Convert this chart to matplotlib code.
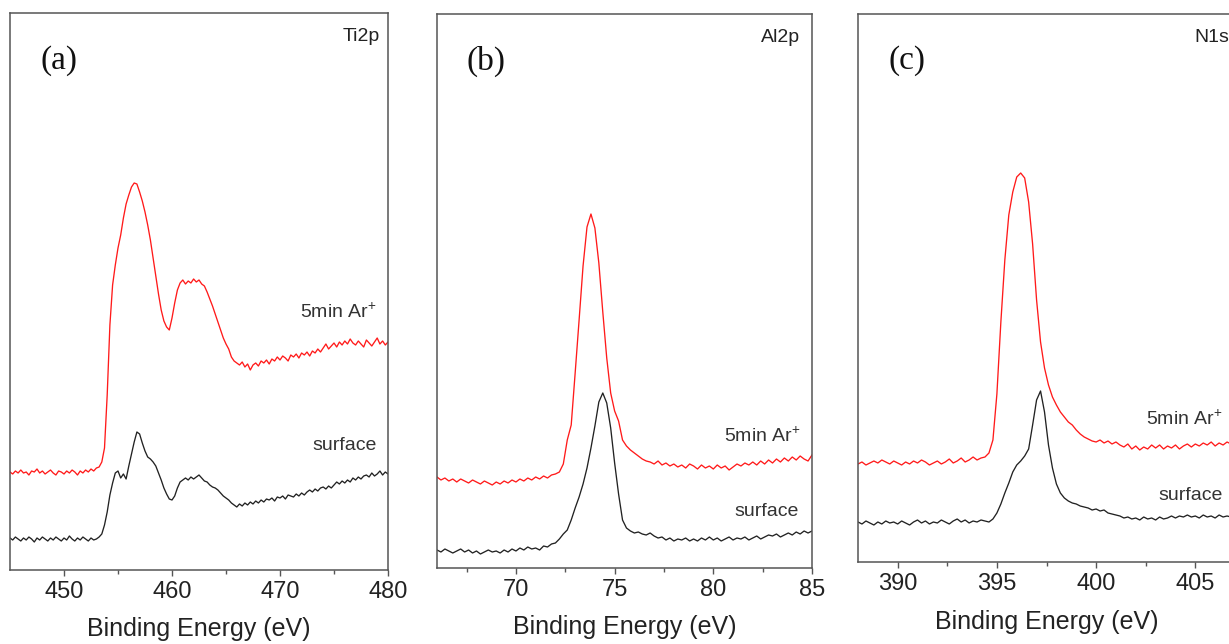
import numpy as np
import matplotlib
matplotlib.use('Agg')
import matplotlib.pyplot as plt

plt.rcParams['font.family'] = ['Liberation Sans', 'DejaVu Sans']
plt.rcParams['mathtext.fontset'] = 'custom'
plt.rcParams['mathtext.rm'] = 'Liberation Sans'
plt.rcParams['mathtext.default'] = 'regular'

# ---- (a) Ti2p, 0.25 eV steps, one row per eV ----
ti_ev = np.arange(445, 480.001, 0.25)
ti_sputter = [
    98, 96, 99, 97,   100, 97, 98, 95,   99, 98, 101, 97,   99, 96, 98, 100,
    97, 95, 99, 98,   96, 99, 97, 100,   98, 95, 99, 97,    100, 98, 101, 99,
    102, 103, 108, 122,  175, 245, 285, 305,  322, 335, 352, 366,  375, 383, 387, 386,
    378, 369, 358, 345,  330, 312, 294, 276,  260, 249, 243, 240,  252, 267, 280, 287,
    290, 286, 289, 287,  291, 288, 290, 286,  284, 278, 271, 264,  256, 248, 240, 232,
    226, 221, 213, 209,  207, 205, 208, 203,  206, 200, 205, 207,  204, 209, 207, 210,
    206, 211, 209, 213,  210, 214, 212, 209,  215, 213, 216, 212,  217, 215, 218, 214,
    219, 217, 221, 218,  222, 226, 221, 224,  227, 223, 228, 225,  229, 226, 231, 227,
    225, 229, 226, 223,  230, 227, 224, 228,  232, 226, 229, 225,
    228]
ti_surface = [
    32, 30, 33, 31,   29, 32, 30, 33,   31, 28, 32, 30,   33, 31, 29, 32,
    30, 33, 31, 29,   32, 30, 34, 31,   29, 32, 30, 33,   31, 29, 32, 30,
    31, 33, 36, 45,   58, 75, 87, 97,   99, 92, 96, 91,   104, 116, 128, 138,
    136, 127, 119, 113,  111, 108, 104, 97,  90, 82, 76, 71,  70, 74, 82, 88,
    90, 92, 90, 93,   91, 93, 95, 92,   89, 88, 85, 83,   82, 80, 77, 74,
    72, 70, 67, 65,   63, 66, 64, 67,   65, 68, 66, 69,   67, 70, 68, 71,
    70, 72, 69, 73,   72, 74, 71, 75,   74, 73, 76, 74,   77, 75, 78, 80,
    78, 81, 79, 82,   83, 81, 84, 82,   85, 88, 86, 89,   87, 90, 88, 92,
    90, 93, 91, 94,   95, 93, 97, 94,   96, 99, 95, 98,
    96]

# ---- (b) Al2p, 0.2 eV steps ----
al_ev = np.arange(66, 85.001, 0.2)
al_sputter = [
    91, 88, 90, 87, 89,  86, 89, 87, 85, 88,  86, 84, 87, 85, 83,  86, 84, 87, 85, 88,
    86, 89, 87, 90, 88,  91, 89, 92, 90, 93,  94, 96, 104, 128, 143,
    195, 248, 302, 341, 354,  340, 305, 256, 210, 175,  157, 147, 128, 122, 118,
    115, 112, 109, 107, 106,  104, 107, 103, 105, 102,  104, 101, 103, 100, 104,
    102, 99, 103, 100, 102,  99, 103, 100, 102, 98,  101, 104, 102, 105, 103,
    106, 103, 107, 104, 108,  105, 109, 106, 110, 107,  111, 108, 112, 109, 107,
    113]
al_surface = [
    18, 16, 19, 17, 15,  17, 19, 16, 18, 15,  17, 14, 16, 18, 16,  17, 15, 18, 16, 19,
    17, 20, 18, 21, 19,  20, 18, 22, 21, 24,  25, 29, 34, 38, 48,
    60, 71, 84, 100, 120,  142, 166, 175, 165, 140,  105, 74, 48, 40, 37,
    35, 36, 34, 33, 35,  32, 30, 31, 28, 30,  27, 29, 28, 30, 27,
    29, 27, 30, 28, 31,  28, 30, 27, 29, 31,  28, 30, 29, 31, 28,
    30, 32, 29, 31, 33,  32, 34, 31, 33, 35,  33, 36, 34, 37, 35,
    37]

# ---- (c) N1s, 0.2 eV steps ----
n_ev = np.arange(388, 407.001, 0.2)
n_sputter = [
    98, 100, 97, 99, 101,  99, 102, 100, 98, 101,  99, 97, 100, 98, 101,
    99, 102, 100, 97, 99,  101, 98, 100, 103, 99,  101, 104, 100, 102, 105,
    102, 104, 105, 109, 122,  168, 240, 302, 347, 370,  385, 389, 384, 360, 318,
    262, 220, 194, 177, 165,  157, 150, 145, 140, 137,  132, 128, 125, 123, 121,
    120, 122, 119, 121, 118,  120, 117, 115, 118, 113,  116, 112, 115, 113, 117,
    114, 117, 113, 116, 114,  117, 113, 116, 118, 115,  118, 116, 119, 117, 120,
    116, 119, 117, 120, 118,
    119]
n_surface = [
    40, 38, 41, 39, 37,  40, 38, 41, 39, 40,  38, 41, 39, 37, 40,
    42, 39, 41, 38, 40,  39, 42, 40, 38, 41,  43, 40, 42, 39, 41,
    40, 42, 41, 40, 43,  49, 58, 69, 79, 90,  97, 101, 106, 113, 137,
    162, 171, 150, 117, 94,  78, 69, 64, 61, 59,  58, 56, 55, 54, 52,
    53, 51, 52, 49, 48,  47, 46, 44, 45, 43,  44, 42, 45, 43, 44,
    42, 45, 43, 44, 46,  44, 46, 45, 47, 45,  46, 44, 47, 45, 46,
    44, 47, 45, 46, 45,
    46]

W, H = 1229, 644
fig = plt.figure(figsize=(W / 100, H / 100), dpi=100)


def box(l, t, r, b):
    return [l / W, 1 - b / H, (r - l) / W, (b - t) / H]


panels = [
    dict(px=(10, 13, 388, 570), ev=ti_ev, red=ti_sputter, blk=ti_surface,
         xlim=(445, 480), major=[450, 460, 470, 480], minor=[455, 465, 475],
         tag='(a)', name='Ti2p', name_x=0.979, ar=(478.9, 258), sf=(479.0, 124), lp=10),
    dict(px=(437, 14, 812, 568), ev=al_ev, red=al_sputter, blk=al_surface,
         xlim=(66, 85), major=[70, 75, 80, 85], minor=[67.5, 72.5, 77.5, 82.5],
         tag='(b)', name='Al2p', name_x=0.968, ar=(84.4, 132), sf=(84.35, 57), lp=10),
    dict(px=(858, 14, 1235, 562), ev=n_ev, red=n_sputter, blk=n_surface,
         xlim=(388, 407), major=[390, 395, 400, 405], minor=[392.5, 397.5, 402.5],
         tag='(c)', name='N1s', name_x=0.985, ar=(406.4, 143), sf=(406.4, 66), lp=11),
]

for p in panels:
    l, t, r, b = p['px']
    ax = fig.add_axes(box(l, t, r, b))
    ax.plot(p['ev'], p['red'], color='#ff1a1a', lw=0.95)
    ax.plot(p['ev'], p['blk'], color='#222222', lw=0.95)
    ax.set_xlim(*p['xlim'])
    ax.set_ylim(0, b - t)
    ax.set_yticks([])
    ax.set_xticks(p['major'])
    ax.set_xticks(p['minor'], minor=True)
    ax.tick_params(axis='x', which='major', direction='out', length=4, width=1,
                   color='#555555', labelsize=17, labelcolor='#222222', pad=4)
    ax.tick_params(axis='x', which='minor', direction='out', length=3, width=1,
                   color='#555555')
    for s in ax.spines.values():
        s.set_color('#555555')
        s.set_linewidth(1.1)
    ax.set_xlabel('Binding Energy (eV)', fontsize=18, color='#222222', labelpad=p['lp'])
    ax.text(0.08, 0.915, p['tag'], transform=ax.transAxes, fontsize=24,
            family='Liberation Serif', ha='left', va='center', color='#111111')
    ax.text(p['name_x'], 0.957, p['name'], transform=ax.transAxes, fontsize=14,
            ha='right', va='center', color='#222222')
    ax.text(p['ar'][0], p['ar'][1], '5min Ar$^{+}$', fontsize=14,
            ha='right', va='center', color='#333333')
    ax.text(p['sf'][0], p['sf'][1], 'surface', fontsize=14, ha='right',
            va='center', color='#333333')

fig.savefig('out.png', dpi=100)
